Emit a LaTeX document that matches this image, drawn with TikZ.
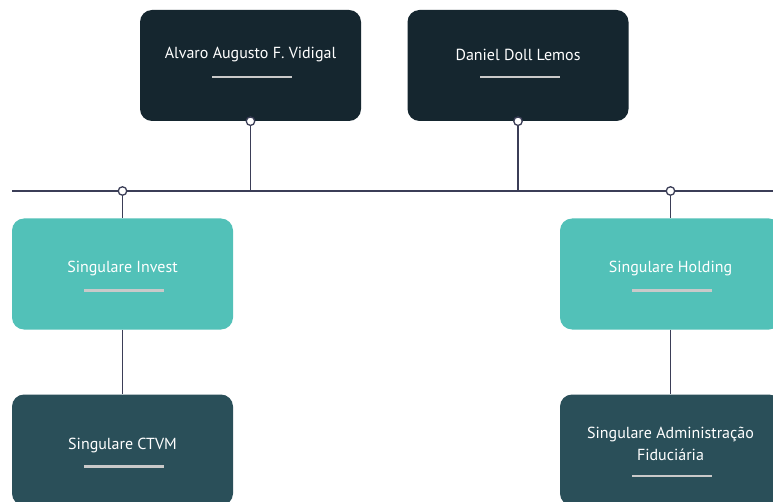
\documentclass[tikz,border=0pt]{standalone}
\usepackage{fontspec}
\setmainfont{PT Sans}
\definecolor{navy}{HTML}{15262F}
\definecolor{teal1}{HTML}{52C1B8}
\definecolor{slate}{HTML}{2A4F59}
\definecolor{linec}{HTML}{3B3E57}
\definecolor{bar}{HTML}{C9C9C9}
\begin{document}
\begin{tikzpicture}[x=1pt,y=-1pt,
  box/.style={rectangle, rounded corners=12pt, minimum width=221pt, minimum height=111pt, inner sep=0pt},
  topbox/.style={box, fill=navy},
  midbox/.style={box, fill=teal1},
  lowbox/.style={box, fill=slate},
  lbl/.style={text=white, font=\fontsize{16}{22}\selectfont, align=center, inner sep=0pt},
  uline/.style={draw=bar, line width=2.6pt},
  conn/.style={draw=linec, line width=1.8pt},
  dot/.style={circle, draw=linec, fill=white, line width=1.3pt, minimum size=8.5pt, inner sep=0pt}
]
\useasboundingbox (0,0) rectangle (773,502);
\clip (0,0) rectangle (773,502);
\fill[white] (0,0) rectangle (773,502);

% boxes
\node[topbox] (alvaro) at (250.5,65.5) {};
\node[topbox] (daniel) at (518,65.5) {};
\node[midbox] (invest) at (122.5,274) {};
\node[midbox] (holding) at (670.5,274) {};
\node[lowbox] (ctvm) at (122.5,450) {};
\node[lowbox] (admin) at (670.5,450) {};

% labels
\node[lbl] (talvaro) at (250.5,55) {Alvaro Augusto F. Vidigal};
\node[lbl] (tdaniel) at (518,55) {Daniel Doll Lemos};
\node[lbl] (tinvest) at (122.5,269) {Singulare Invest};
\node[lbl] (tholding) at (670.5,269) {Singulare Holding};
\node[lbl] (tctvm) at (122.5,445) {Singulare CTVM};
\node[lbl] (tadmin) at (670.5,444) {Singulare Administração\\Fiduciária};

% underlines
\draw[uline] (212,77) -- (292,77);
\draw[uline] (480,77) -- (560,77);
\draw[uline] (84,290.5) -- (164,290.5);
\draw[uline] (632,290.5) -- (712,290.5);
\draw[uline] (84,466.5) -- (164,466.5);
\draw[uline] (632,476) -- (712,476);

% horizontal bus
\coordinate (hl) at (12,191);
\coordinate (hr) at (780,191);
\draw[conn] (hl) -- (hr);

% connectors
\draw[conn] (alvaro.south) -- (alvaro.south |- hl);
\draw[conn] (daniel.south) -- (daniel.south |- hl);
\draw[conn] (invest.north |- hl) -- (invest.north);
\draw[conn] (holding.north |- hl) -- (holding.north);
\draw[conn] (invest.south) -- (ctvm.north);
\draw[conn] (holding.south) -- (admin.north);

% junction dots
\node[dot] (d1) at (alvaro.south) {};
\node[dot] (d2) at (daniel.south) {};
\node[dot] (d3) at (invest.north |- hl) {};
\node[dot] (d4) at (holding.north |- hl) {};
\end{tikzpicture}
\end{document}
